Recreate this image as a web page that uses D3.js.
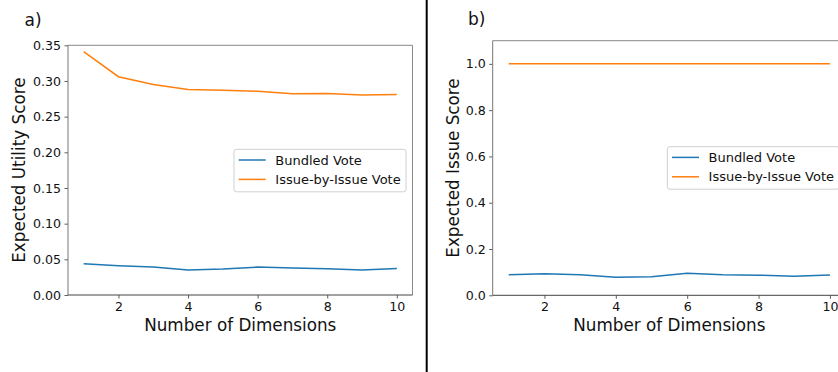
<!DOCTYPE html>
<html><head><meta charset="utf-8">
<script src="https://cdn.jsdelivr.net/npm/d3@7"></script>
<style>
body{margin:0;background:#fff;}
svg{display:block;font-family:"DejaVu Sans",sans-serif;}
</style></head>
<body><svg id="c" width="838" height="372"></svg>
<script>
const dims = [1,2,3,4,5,6,7,8,9,10];
const seriesNames = ["Bundled Vote","Issue-by-Issue Vote"];
const colors = ["#1f77b4","#ff7f0e"];
// Panel a: Expected Utility Score
const utilBundled = [0.0438,0.0410,0.0392,0.0350,0.0364,0.0392,0.0378,0.0369,0.0350,0.0373];
const utilIssue   = [0.341,0.306,0.295,0.288,0.287,0.2856,0.282,0.2824,0.2805,0.281];
// Panel b: Expected Issue Score
const issueBundled = [0.089,0.093,0.089,0.078,0.080,0.095,0.089,0.087,0.082,0.088];
const issueIssue   = [1,1,1,1,1,1,1,1,1,1];
const xTicks = [2,4,6,8,10];
const yTicksA = [0,0.05,0.10,0.15,0.20,0.25,0.30,0.35];
const yTicksB = [0,0.2,0.4,0.6,0.8,1.0];

const svg = d3.select("#c");
svg.append("rect").attr("width",838).attr("height",372).attr("fill","#fff");

function panel(o){
  const g = svg.append("g");
  const x = d3.scaleLinear().domain([0.55,10.45]).range([o.left,o.right]);
  const y = d3.scaleLinear().domain(o.ydom).range([o.bottom,o.top]);
  const clipId = "clip"+o.id;
  svg.append("clipPath").attr("id",clipId).append("rect")
    .attr("x",o.left).attr("y",o.top).attr("width",o.right-o.left).attr("height",o.bottom-o.top);
  const line = d3.line().x((d,i)=>x(dims[i])).y(d=>y(d));
  o.series.forEach((s,k)=>{
    g.append("path").attr("d",line(s)).attr("fill","none")
      .attr("stroke",colors[k]).attr("stroke-width",1.5).attr("clip-path",`url(#${clipId})`);
  });
  g.append("line").attr("x1",o.left).attr("x2",o.right).attr("y1",o.top).attr("y2",o.top).attr("stroke","#888").attr("stroke-width",1);
  g.append("line").attr("x1",o.right).attr("x2",o.right).attr("y1",o.top).attr("y2",o.bottom).attr("stroke","#888").attr("stroke-width",1);
  const xa = d3.axisBottom(x).tickValues(xTicks).tickSize(3.5).tickPadding(3.5).tickFormat(d3.format("d"));
  const ya = d3.axisLeft(y).tickValues(o.yticks).tickSize(3.5).tickPadding(3.5).tickFormat(d3.format(o.fmt));
  const gx = g.append("g").attr("transform",`translate(0,${o.bottom})`).call(xa);
  const gy = g.append("g").attr("transform",`translate(${o.left},0)`).call(ya);
  [gx,gy].forEach(a=>{
    a.select(".domain").remove();
    a.selectAll("line").attr("stroke","#333").attr("stroke-width",0.8);
    a.selectAll("text").attr("fill","#111").style("font-size","12.6px").style("font-family","DejaVu Sans");
  });
  g.append("line").attr("x1",o.left).attr("x2",o.left).attr("y1",o.top).attr("y2",o.bottom).attr("stroke","#777").attr("stroke-width",1);
  g.append("line").attr("x1",o.left).attr("x2",o.right).attr("y1",o.bottom).attr("y2",o.bottom).attr("stroke","#444").attr("stroke-width",1);
  g.append("text").attr("x",(o.left+o.right)/2).attr("y",331).attr("text-anchor","middle")
    .style("font-size","16.8px").attr("fill","#111").text("Number of Dimensions");
  g.append("text").attr("transform",`translate(${o.ylabX},${(o.top+o.bottom)/2}) rotate(-90)`)
    .attr("text-anchor","middle").style("font-size","16.8px").attr("fill","#111").text(o.ylabel);
  g.append("text").attr("x",o.tagX).attr("y",o.tagY).style("font-size","17px").attr("fill","#111").text(o.tag);
  const lg = g.append("g").attr("transform",`translate(${o.legX},${o.legY})`);
  lg.append("rect").attr("width",172).attr("height",42.5).attr("rx",2.5)
    .attr("fill","#fff").attr("fill-opacity",0.8).attr("stroke","#d0d0d0").attr("stroke-width",1);
  seriesNames.forEach((n,k)=>{
    const yy = 10.7 + k*19.4;
    lg.append("line").attr("x1",4.7).attr("x2",31.7).attr("y1",yy).attr("y2",yy)
      .attr("stroke",colors[k]).attr("stroke-width",1.5);
    lg.append("text").attr("x",41.3).attr("y",yy+4.7).style("font-size","13px").attr("fill","#111").text(n);
  });
}

panel({id:"a",left:68,right:412.5,top:45.3,bottom:295,ydom:[0,0.35],yticks:yTicksA,fmt:".2f",
  series:[utilBundled,utilIssue],ylabel:"Expected Utility Score",ylabX:25,tag:"a)",tagX:24.5,tagY:26,legX:234,legY:149.3});
panel({id:"b",left:492.7,right:846,top:40.7,bottom:295.3,ydom:[0,1.1],yticks:yTicksB,fmt:".1f",
  series:[issueBundled,issueIssue],ylabel:"Expected Issue Score",ylabX:459,tag:"b)",tagX:468,tagY:24.5,legX:667.3,legY:146.7});

svg.append("line").attr("x1",426.7).attr("x2",426.7).attr("y1",0).attr("y2",372).attr("stroke","#000").attr("stroke-width",2);
</script></body></html>
